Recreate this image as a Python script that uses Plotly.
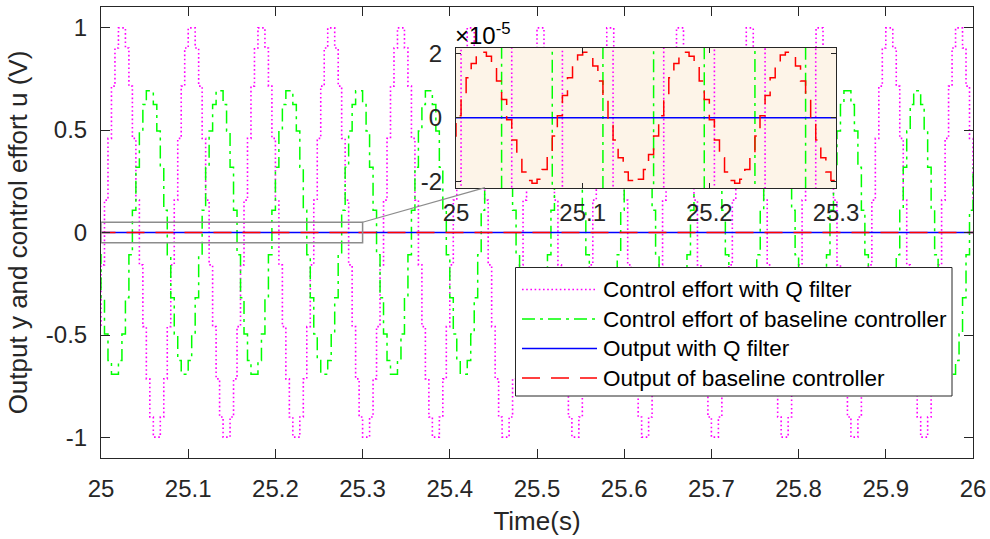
import plotly.graph_objects as go

# ---------------- data (sampled every 4 ms, zero-order hold) ----------------
SAMPLE_PERIOD = 0.004
T_START = 24.996

# Control effort with Q filter (V)
control_q = [
    -0.459,
    -0.158, 0.158, 0.459, 0.714, 0.900, 0.998, 0.998, 0.900, 0.714, 0.459, 0.158, -0.158, -0.459, -0.714, -0.900, -0.998, -0.998, -0.900, -0.714, -0.459,
    -0.158, 0.158, 0.459, 0.714, 0.900, 0.998, 0.998, 0.900, 0.714, 0.459, 0.158, -0.158, -0.459, -0.714, -0.900, -0.998, -0.998, -0.900, -0.714, -0.459,
    -0.158, 0.158, 0.459, 0.714, 0.900, 0.998, 0.998, 0.900, 0.714, 0.459, 0.158, -0.158, -0.459, -0.714, -0.900, -0.998, -0.998, -0.900, -0.714, -0.459,
    -0.158, 0.158, 0.459, 0.714, 0.900, 0.998, 0.998, 0.900, 0.714, 0.459, 0.158, -0.158, -0.459, -0.714, -0.900, -0.998, -0.998, -0.900, -0.714, -0.459,
    -0.158, 0.158, 0.459, 0.714, 0.900, 0.998, 0.998, 0.900, 0.714, 0.459, 0.158, -0.158, -0.459, -0.714, -0.900, -0.998, -0.998, -0.900, -0.714, -0.459,
    -0.158, 0.158, 0.459, 0.714, 0.900, 0.998, 0.998, 0.900, 0.714, 0.459, 0.158, -0.158, -0.459, -0.714, -0.900, -0.998, -0.998, -0.900, -0.714, -0.459,
    -0.158, 0.158, 0.459, 0.714, 0.900, 0.998, 0.998, 0.900, 0.714, 0.459, 0.158, -0.158, -0.459, -0.714, -0.900, -0.998, -0.998, -0.900, -0.714, -0.459,
    -0.158, 0.158, 0.459, 0.714, 0.900, 0.998, 0.998, 0.900, 0.714, 0.459, 0.158, -0.158, -0.459, -0.714, -0.900, -0.998, -0.998, -0.900, -0.714, -0.459,
    -0.158, 0.158, 0.459, 0.714, 0.900, 0.998, 0.998, 0.900, 0.714, 0.459, 0.158, -0.158, -0.459, -0.714, -0.900, -0.998, -0.998, -0.900, -0.714, -0.459,
    -0.158, 0.158, 0.459, 0.714, 0.900, 0.998, 0.998, 0.900, 0.714, 0.459, 0.158, -0.158, -0.459, -0.714, -0.900, -0.998, -0.998, -0.900, -0.714, -0.459,
    -0.158, 0.158, 0.459, 0.714, 0.900, 0.998, 0.998, 0.900, 0.714, 0.459, 0.158, -0.158, -0.459, -0.714, -0.900, -0.998, -0.998, -0.900, -0.714, -0.459,
    -0.158, 0.158, 0.459, 0.714, 0.900, 0.998, 0.998, 0.900, 0.714, 0.459, 0.158, -0.158, -0.459, -0.714, -0.900, -0.998, -0.998, -0.900, -0.714, -0.459,
    -0.158, 0.158, 0.459, 0.714, 0.900, 0.998, 0.998, 0.900, 0.714, 0.459, 0.158,
]

# Control effort of baseline controller (V)
control_base = [
    -0.109,
    -0.318, -0.495, -0.624, -0.691, -0.691, -0.624, -0.495, -0.318, -0.109, 0.109, 0.318, 0.495, 0.624, 0.691, 0.691, 0.624, 0.495, 0.318, 0.109, -0.109,
    -0.318, -0.495, -0.624, -0.691, -0.691, -0.624, -0.495, -0.318, -0.109, 0.109, 0.318, 0.495, 0.624, 0.691, 0.691, 0.624, 0.495, 0.318, 0.109, -0.109,
    -0.318, -0.495, -0.624, -0.691, -0.691, -0.624, -0.495, -0.318, -0.109, 0.109, 0.318, 0.495, 0.624, 0.691, 0.691, 0.624, 0.495, 0.318, 0.109, -0.109,
    -0.318, -0.495, -0.624, -0.691, -0.691, -0.624, -0.495, -0.318, -0.109, 0.109, 0.318, 0.495, 0.624, 0.691, 0.691, 0.624, 0.495, 0.318, 0.109, -0.109,
    -0.318, -0.495, -0.624, -0.691, -0.691, -0.624, -0.495, -0.318, -0.109, 0.109, 0.318, 0.495, 0.624, 0.691, 0.691, 0.624, 0.495, 0.318, 0.109, -0.109,
    -0.318, -0.495, -0.624, -0.691, -0.691, -0.624, -0.495, -0.318, -0.109, 0.109, 0.318, 0.495, 0.624, 0.691, 0.691, 0.624, 0.495, 0.318, 0.109, -0.109,
    -0.318, -0.495, -0.624, -0.691, -0.691, -0.624, -0.495, -0.318, -0.109, 0.109, 0.318, 0.495, 0.624, 0.691, 0.691, 0.624, 0.495, 0.318, 0.109, -0.109,
    -0.318, -0.495, -0.624, -0.691, -0.691, -0.624, -0.495, -0.318, -0.109, 0.109, 0.318, 0.495, 0.624, 0.691, 0.691, 0.624, 0.495, 0.318, 0.109, -0.109,
    -0.318, -0.495, -0.624, -0.691, -0.691, -0.624, -0.495, -0.318, -0.109, 0.109, 0.318, 0.495, 0.624, 0.691, 0.691, 0.624, 0.495, 0.318, 0.109, -0.109,
    -0.318, -0.495, -0.624, -0.691, -0.691, -0.624, -0.495, -0.318, -0.109, 0.109, 0.318, 0.495, 0.624, 0.691, 0.691, 0.624, 0.495, 0.318, 0.109, -0.109,
    -0.318, -0.495, -0.624, -0.691, -0.691, -0.624, -0.495, -0.318, -0.109, 0.109, 0.318, 0.495, 0.624, 0.691, 0.691, 0.624, 0.495, 0.318, 0.109, -0.109,
    -0.318, -0.495, -0.624, -0.691, -0.691, -0.624, -0.495, -0.318, -0.109, 0.109, 0.318, 0.495, 0.624, 0.691, 0.691, 0.624, 0.495, 0.318, 0.109, -0.109,
    -0.318, -0.495, -0.624, -0.691, -0.691, -0.624, -0.495, -0.318, -0.109, 0.109, 0.318,
]

# Output with Q filter (V) -- flat at zero on this scale
output_q = [
    0.0,
    0.0, 0.0, 0.0, 0.0, 0.0, 0.0, 0.0, 0.0, 0.0, 0.0, 0.0, 0.0, 0.0, 0.0, 0.0, 0.0, 0.0, 0.0, 0.0, 0.0,
    0.0, 0.0, 0.0, 0.0, 0.0, 0.0, 0.0, 0.0, 0.0, 0.0, 0.0, 0.0, 0.0, 0.0, 0.0, 0.0, 0.0, 0.0, 0.0, 0.0,
    0.0, 0.0, 0.0, 0.0, 0.0, 0.0, 0.0, 0.0, 0.0, 0.0, 0.0, 0.0, 0.0, 0.0, 0.0, 0.0, 0.0, 0.0, 0.0, 0.0,
    0.0, 0.0, 0.0, 0.0, 0.0, 0.0, 0.0, 0.0, 0.0, 0.0, 0.0, 0.0, 0.0, 0.0, 0.0, 0.0, 0.0, 0.0, 0.0, 0.0,
    0.0, 0.0, 0.0, 0.0, 0.0, 0.0, 0.0, 0.0, 0.0, 0.0, 0.0, 0.0, 0.0, 0.0, 0.0, 0.0, 0.0, 0.0, 0.0, 0.0,
    0.0, 0.0, 0.0, 0.0, 0.0, 0.0, 0.0, 0.0, 0.0, 0.0, 0.0, 0.0, 0.0, 0.0, 0.0, 0.0, 0.0, 0.0, 0.0, 0.0,
    0.0, 0.0, 0.0, 0.0, 0.0, 0.0, 0.0, 0.0, 0.0, 0.0, 0.0, 0.0, 0.0, 0.0, 0.0, 0.0, 0.0, 0.0, 0.0, 0.0,
    0.0, 0.0, 0.0, 0.0, 0.0, 0.0, 0.0, 0.0, 0.0, 0.0, 0.0, 0.0, 0.0, 0.0, 0.0, 0.0, 0.0, 0.0, 0.0, 0.0,
    0.0, 0.0, 0.0, 0.0, 0.0, 0.0, 0.0, 0.0, 0.0, 0.0, 0.0, 0.0, 0.0, 0.0, 0.0, 0.0, 0.0, 0.0, 0.0, 0.0,
    0.0, 0.0, 0.0, 0.0, 0.0, 0.0, 0.0, 0.0, 0.0, 0.0, 0.0, 0.0, 0.0, 0.0, 0.0, 0.0, 0.0, 0.0, 0.0, 0.0,
    0.0, 0.0, 0.0, 0.0, 0.0, 0.0, 0.0, 0.0, 0.0, 0.0, 0.0, 0.0, 0.0, 0.0, 0.0, 0.0, 0.0, 0.0, 0.0, 0.0,
    0.0, 0.0, 0.0, 0.0, 0.0, 0.0, 0.0, 0.0, 0.0, 0.0, 0.0, 0.0, 0.0, 0.0, 0.0, 0.0, 0.0, 0.0, 0.0, 0.0,
    0.0, 0.0, 0.0, 0.0, 0.0, 0.0, 0.0, 0.0, 0.0, 0.0, 0.0,
]

# Output of baseline controller, in units of 1e-5 V
OUTPUT_SCALE = 1e-5
output_base_e5 = [
    -0.572,
    0.064, 0.694, 1.256, 1.696, 1.969, 2.049, 1.929, 1.620, 1.152, 0.572, -0.064, -0.694, -1.256, -1.696, -1.969, -2.049, -1.929, -1.620, -1.152, -0.572,
    0.064, 0.694, 1.256, 1.696, 1.969, 2.049, 1.929, 1.620, 1.152, 0.572, -0.064, -0.694, -1.256, -1.696, -1.969, -2.049, -1.929, -1.620, -1.152, -0.572,
    0.064, 0.694, 1.256, 1.696, 1.969, 2.049, 1.929, 1.620, 1.152, 0.572, -0.064, -0.694, -1.256, -1.696, -1.969, -2.049, -1.929, -1.620, -1.152, -0.572,
    0.064, 0.694, 1.256, 1.696, 1.969, 2.049, 1.929, 1.620, 1.152, 0.572, -0.064, -0.694, -1.256, -1.696, -1.969, -2.049, -1.929, -1.620, -1.152, -0.572,
    0.064, 0.694, 1.256, 1.696, 1.969, 2.049, 1.929, 1.620, 1.152, 0.572, -0.064, -0.694, -1.256, -1.696, -1.969, -2.049, -1.929, -1.620, -1.152, -0.572,
    0.064, 0.694, 1.256, 1.696, 1.969, 2.049, 1.929, 1.620, 1.152, 0.572, -0.064, -0.694, -1.256, -1.696, -1.969, -2.049, -1.929, -1.620, -1.152, -0.572,
    0.064, 0.694, 1.256, 1.696, 1.969, 2.049, 1.929, 1.620, 1.152, 0.572, -0.064, -0.694, -1.256, -1.696, -1.969, -2.049, -1.929, -1.620, -1.152, -0.572,
    0.064, 0.694, 1.256, 1.696, 1.969, 2.049, 1.929, 1.620, 1.152, 0.572, -0.064, -0.694, -1.256, -1.696, -1.969, -2.049, -1.929, -1.620, -1.152, -0.572,
    0.064, 0.694, 1.256, 1.696, 1.969, 2.049, 1.929, 1.620, 1.152, 0.572, -0.064, -0.694, -1.256, -1.696, -1.969, -2.049, -1.929, -1.620, -1.152, -0.572,
    0.064, 0.694, 1.256, 1.696, 1.969, 2.049, 1.929, 1.620, 1.152, 0.572, -0.064, -0.694, -1.256, -1.696, -1.969, -2.049, -1.929, -1.620, -1.152, -0.572,
    0.064, 0.694, 1.256, 1.696, 1.969, 2.049, 1.929, 1.620, 1.152, 0.572, -0.064, -0.694, -1.256, -1.696, -1.969, -2.049, -1.929, -1.620, -1.152, -0.572,
    0.064, 0.694, 1.256, 1.696, 1.969, 2.049, 1.929, 1.620, 1.152, 0.572, -0.064, -0.694, -1.256, -1.696, -1.969, -2.049, -1.929, -1.620, -1.152, -0.572,
    0.064, 0.694, 1.256, 1.696, 1.969, 2.049, 1.929, 1.620, 1.152, 0.572, -0.064,
]

series_names = [
    "Control effort with Q filter",
    "Control effort of baseline controller",
    "Output with Q filter",
    "Output of baseline controller",
]

x_ticks = [25, 25.1, 25.2, 25.3, 25.4, 25.5, 25.6, 25.7, 25.8, 25.9, 26]
x_tick_text = ["25", "25.1", "25.2", "25.3", "25.4", "25.5", "25.6", "25.7", "25.8", "25.9", "26"]
y_ticks = [-1, -0.5, 0, 0.5, 1]
y_tick_text = ["-1", "-0.5", "0", "0.5", "1"]
inset_x_ticks = [25, 25.1, 25.2, 25.3]
inset_x_tick_text = ["25", "25.1", "25.2", "25.3"]
inset_y_ticks_e5 = [-2, 0, 2]
inset_y_tick_text = ["-2", "0", "2"]

# ---------------- derived ----------------
time = [round(T_START + SAMPLE_PERIOD * i, 3) for i in range(len(control_q))]
output_base = [v * OUTPUT_SCALE for v in output_base_e5]
series_values = [control_q, control_base, output_q, output_base]

# ---------------- styling ----------------
W, H = 990, 539
ML, MR, MT, MB = 101, 17, 7, 81
PW, PH = W - ML - MR, H - MT - MB
FONT = "Liberation Sans, Arial, Helvetica, sans-serif"
AX = "#262626"

def px_x(p):
    return (p - ML) / PW

def px_y(p):
    return (H - MB - p) / PH

styles = [
    dict(color="#FF00FF", width=1.6, dash="1.6px,2.6px"),
    dict(color="#00FF00", width=1.5, dash="13px,5px,3px,5px"),
    dict(color="#0000FF", width=1.5, dash="solid"),
    dict(color="#FF0000", width=1.5, dash="18px,11px"),
]

fig = go.Figure()
for name, vals, st in zip(series_names, series_values, styles):
    fig.add_trace(go.Scatter(x=time, y=vals, mode="lines", name=name,
                             line=dict(shape="hv", **st), xaxis="x", yaxis="y",
                             showlegend=False, hoverinfo="skip"))
for name, vals, st in zip(series_names, series_values, styles):
    fig.add_trace(go.Scatter(x=time, y=vals, mode="lines", name=name,
                             line=dict(shape="hv", **st), xaxis="x2", yaxis="y2",
                             showlegend=False, hoverinfo="skip"))

tickfont = dict(family=FONT, size=24, color=AX)
axis_common = dict(showgrid=False, zeroline=False, showline=True, linecolor=AX,
                   linewidth=1, mirror="ticks", ticks="inside", tickcolor=AX,
                   tickwidth=1, tickfont=tickfont, automargin=False)

inset_x_dom = [px_x(456), px_x(836)]
inset_y_dom = [px_y(188), px_y(47.5)]
inset_y_range = [-2.2 * OUTPUT_SCALE, 2.2 * OUTPUT_SCALE]

fig.update_layout(
    width=W, height=H,
    margin=dict(l=ML, r=MR, t=MT, b=MB, pad=0, autoexpand=False),
    paper_bgcolor="white", plot_bgcolor="white",
    showlegend=False,
    font=dict(family=FONT, color=AX),
    xaxis=dict(domain=[0, 1], range=[25, 26], tickvals=x_ticks, ticktext=x_tick_text,
               ticklen=9, anchor="y", ticklabelstandoff=9,
               title=dict(text="Time(s)", font=dict(family=FONT, size=26, color=AX), standoff=11),
               **axis_common),
    yaxis=dict(domain=[0, 1], range=[-1.1, 1.1], tickvals=y_ticks, ticktext=y_tick_text,
               ticklen=9, anchor="x", ticklabelstandoff=8,
               title=dict(text="Output y and control effort u (V)",
                          font=dict(family=FONT, size=26, color=AX), standoff=10),
               **axis_common),
    xaxis2=dict(domain=inset_x_dom, range=[25, 25.3], tickvals=inset_x_ticks,
                ticktext=inset_x_tick_text, ticklen=5, anchor="y2", ticklabelstandoff=3,
                **axis_common),
    yaxis2=dict(domain=inset_y_dom, range=inset_y_range,
                tickvals=[v * OUTPUT_SCALE for v in inset_y_ticks_e5],
                ticktext=inset_y_tick_text, ticklen=5, anchor="x2", ticklabelstandoff=8,
                **axis_common),
)

shapes = [
    # inset background
    dict(type="rect", xref="x2", yref="y2", x0=25, x1=25.3,
         y0=inset_y_range[0], y1=inset_y_range[1], layer="below",
         fillcolor="#FDF4E8", line=dict(width=0)),
    # zoom rectangle on main axes
    dict(type="rect", xref="x", yref="y", x0=25, x1=25.3, y0=-0.05, y1=0.05,
         layer="above", line=dict(color="#8C8C8C", width=1.5), fillcolor="rgba(0,0,0,0)"),
    # connector to inset
    dict(type="line", xref="x", yref="y", x0=25.3, y0=0.05,
         x1=25 + (485 - ML) / PW, y1=1.1 - 2.2 * (187.7 - MT) / PH,
         layer="above", line=dict(color="#8C8C8C", width=1.2)),
    # legend box
    dict(type="rect", xref="paper", yref="paper", x0=px_x(515.5), x1=px_x(952),
         y0=px_y(396), y1=px_y(267.5), layer="above", fillcolor="white",
         line=dict(color=AX, width=1)),
]
legend_rows = [289.5, 319, 348.5, 378]
annotations = []
for name, st, yr in zip(series_names, styles, legend_rows):
    shapes.append(dict(type="line", xref="paper", yref="paper", x0=px_x(522), x1=px_x(597),
                       y0=px_y(yr), y1=px_y(yr), layer="above",
                       line=dict(color=st["color"], width=st["width"], dash=st["dash"])))
    annotations.append(dict(xref="paper", yref="paper", x=px_x(601), y=px_y(yr),
                            xanchor="left", yanchor="middle", showarrow=False,
                            text=name, font=dict(family=FONT, size=22.5, color="black")))
annotations.append(dict(xref="paper", yref="paper", x=px_x(453), y=px_y(51),
                        xanchor="left", yanchor="bottom", showarrow=False,
                        text="×10<sup>-5</sup>", font=dict(family=FONT, size=24, color="black")))
fig.update_layout(shapes=shapes, annotations=annotations)

# the page body has a default 8px margin; remove it so the figure sits at the window origin
fig.write_html("out.html", config={"displayModeBar": False},
               post_script="document.body.style.margin='0px';")
